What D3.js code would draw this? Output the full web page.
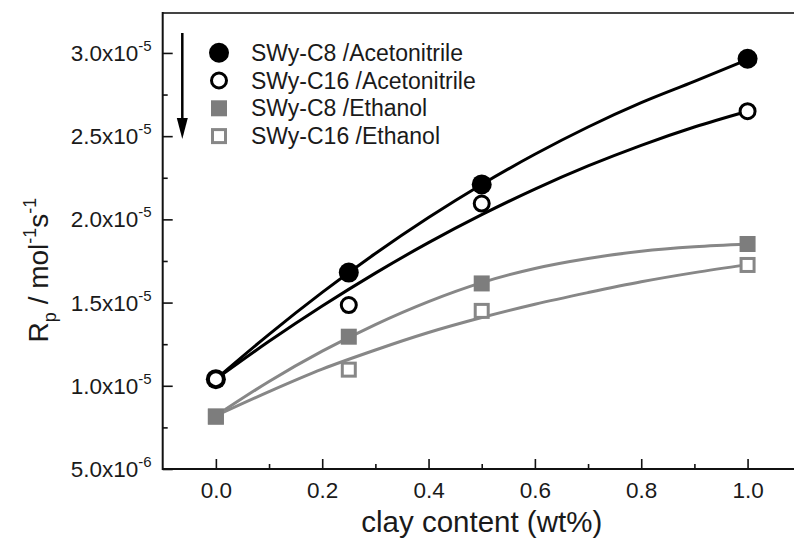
<!DOCTYPE html>
<html>
<head>
<meta charset="utf-8">
<script src="https://cdn.jsdelivr.net/npm/d3@7"></script>
<style>
  html, body { margin: 0; padding: 0; background: #fff; }
  svg { display: block; font-family: "Liberation Sans", Arial, sans-serif; }
</style>
</head>
<body>
<svg id="chart" width="794" height="545"></svg>
<script>
// ---- data ----
const clayContent = [0, 0.25, 0.5, 1.0];
const c8Acetonitrile  = [1.04e-5, 1.68e-5, 2.21e-5, 2.965e-5];
const c16Acetonitrile = [1.04e-5, 1.485e-5, 2.095e-5, 2.65e-5];
const c8Ethanol       = [8.15e-6, 1.295e-5, 1.615e-5, 1.852e-5];
const c16Ethanol      = [8.15e-6, 1.097e-5, 1.45e-5, 1.726e-5];

// fitted curves
const fitX = [0, 0.1, 0.2, 0.3, 0.4, 0.5, 0.6, 0.7, 0.8, 0.9, 1.0];
const fitC8Acetonitrile  = [1.04e-5, 1.309e-5, 1.561e-5, 1.795e-5, 2.011e-5, 2.21e-5, 2.391e-5, 2.555e-5, 2.701e-5, 2.829e-5, 2.96e-5];
const fitC16Acetonitrile = [1.04e-5, 1.267e-5, 1.479e-5, 1.677e-5, 1.86e-5, 2.028e-5, 2.182e-5, 2.321e-5, 2.445e-5, 2.555e-5, 2.65e-5];
const fitC8Ethanol       = [8.2e-6, 1.026e-5, 1.208e-5, 1.368e-5, 1.506e-5, 1.62e-5, 1.705e-5, 1.765e-5, 1.808e-5, 1.835e-5, 1.852e-5];
const fitC16Ethanol      = [8.2e-6, 9.65e-6, 1.10e-5, 1.215e-5, 1.32e-5, 1.41e-5, 1.49e-5, 1.56e-5, 1.625e-5, 1.68e-5, 1.728e-5];

const seriesNames = ["SWy-C8 /Acetonitrile", "SWy-C16 /Acetonitrile", "SWy-C8 /Ethanol", "SWy-C16 /Ethanol"];
const xTicks = [0, 0.2, 0.4, 0.6, 0.8, 1.0];
const xTickLabels = ["0.0", "0.2", "0.4", "0.6", "0.8", "1.0"];
const xMinorTicks = [0.1, 0.3, 0.5, 0.7, 0.9];
const yTicks = [5e-6, 1e-5, 1.5e-5, 2e-5, 2.5e-5, 3e-5];
const yTickMantissa = ["5.0", "1.0", "1.5", "2.0", "2.5", "3.0"];
const yTickExponent = ["-6", "-5", "-5", "-5", "-5", "-5"];
const yMinorTicks = [7.5e-6, 1.25e-5, 1.75e-5, 2.25e-5, 2.75e-5];

// ---- layout ----
const svg = d3.select("#chart");
const plotLeft = 162.7, plotBottom = 469, plotTop = 13;
const x = d3.scaleLinear().domain([-0.1, 1.1]).range([plotLeft, plotLeft + 1.2 * 531.7]);
const y = d3.scaleLinear().domain([5e-6, 3.24e-5]).range([plotBottom, plotTop]);
const plotRight = x(1.1);

const BLACK = "#000";
const GRAY = "#878787";
const GRAY_FILL = "#7d7d7d";
const TEXT = "#1a1a1a";

// frame (top/right)
svg.append("path")
  .attr("d", `M${plotLeft},${plotTop}H${plotRight}V${plotBottom}`)
  .attr("fill", "none").attr("stroke", "#444").attr("stroke-width", 2);

// x axis
const gx = svg.append("g").attr("transform", `translate(0,${plotBottom})`);
gx.call(d3.axisBottom(x).tickValues(xTicks).tickSize(-10).tickFormat((d, i) => xTickLabels[i]));
gx.append("g").call(d3.axisBottom(x).tickValues(xMinorTicks).tickSize(-5).tickFormat(""));
gx.selectAll(".domain").remove();
gx.selectAll("line").attr("stroke", "#111").attr("stroke-width", 1.6);
gx.selectAll("text").attr("font-size", 22.5).attr("fill", TEXT).attr("dy", null).attr("y", 29);
svg.append("line").attr("x1", plotLeft).attr("x2", plotRight).attr("y1", plotBottom).attr("y2", plotBottom)
  .attr("stroke", "#111").attr("stroke-width", 2);

// y axis
const gy = svg.append("g").attr("transform", `translate(${plotLeft},0)`);
gy.call(d3.axisLeft(y).tickValues(yTicks).tickSize(-10).tickFormat(""));
gy.append("g").call(d3.axisLeft(y).tickValues(yMinorTicks).tickSize(-5).tickFormat(""));
gy.selectAll(".domain").remove();
gy.selectAll("line").attr("stroke", "#111").attr("stroke-width", 1.6);
svg.append("line").attr("x1", plotLeft).attr("x2", plotLeft).attr("y1", plotTop - 1).attr("y2", plotBottom + 1)
  .attr("stroke", "#111").attr("stroke-width", 2);

const yLab = svg.append("g").selectAll("text").data(yTicks).join("text")
  .attr("x", plotLeft - 11).attr("y", d => y(d) + 8)
  .attr("text-anchor", "end").attr("font-size", 22.5).attr("fill", TEXT);
yLab.append("tspan").text((d, i) => yTickMantissa[i] + "x10");
yLab.append("tspan").attr("dy", -10).attr("font-size", 15).text((d, i) => yTickExponent[i]);

// axis titles
svg.append("text").attr("x", (x(0) + x(1)) / 2).attr("y", 532)
  .attr("text-anchor", "middle").attr("font-size", 29.5).attr("fill", TEXT)
  .text("clay content (wt%)");

const yt = svg.append("text")
  .attr("transform", `translate(48,270) rotate(-90)`)
  .attr("text-anchor", "middle").attr("font-size", 28).attr("fill", TEXT);
yt.append("tspan").text("R");
yt.append("tspan").attr("font-size", 18).attr("dy", 8).text("p");
yt.append("tspan").attr("dy", -8).text(" / mol");
yt.append("tspan").attr("font-size", 18).attr("dy", -12).text("-1");
yt.append("tspan").attr("dy", 12).text("s");
yt.append("tspan").attr("font-size", 18).attr("dy", -12).text("-1");

// fitted curves
const line = d3.line().x(d => x(d[0])).y(d => y(d[1])).curve(d3.curveMonotoneX);
const fits = [
  { v: fitC8Ethanol, c: GRAY },
  { v: fitC16Ethanol, c: GRAY },
  { v: fitC8Acetonitrile, c: BLACK },
  { v: fitC16Acetonitrile, c: BLACK }
];
svg.append("g").selectAll("path").data(fits).join("path")
  .attr("d", f => line(fitX.map((xv, i) => [xv, f.v[i]])))
  .attr("fill", "none").attr("stroke", f => f.c).attr("stroke-width", 3);

// markers
const pts = arr => clayContent.map((xv, i) => [xv, arr[i]]);
const mk = svg.append("g");
mk.selectAll(".osq").data(pts(c16Ethanol)).join("rect").attr("class", "osq")
  .attr("x", d => x(d[0]) - 6.5).attr("y", d => y(d[1]) - 6.5).attr("width", 13).attr("height", 13)
  .attr("fill", "#fff").attr("stroke", GRAY).attr("stroke-width", 3);
mk.selectAll(".fsq").data(pts(c8Ethanol)).join("rect").attr("class", "fsq")
  .attr("x", d => x(d[0]) - 8).attr("y", d => y(d[1]) - 8).attr("width", 16).attr("height", 16)
  .attr("fill", GRAY_FILL);
mk.selectAll(".fci").data(pts(c8Acetonitrile)).join("circle").attr("class", "fci")
  .attr("cx", d => x(d[0])).attr("cy", d => y(d[1])).attr("r", 10).attr("fill", BLACK);
mk.selectAll(".oci").data(pts(c16Acetonitrile)).join("circle").attr("class", "oci")
  .attr("cx", d => x(d[0])).attr("cy", d => y(d[1])).attr("r", 7.5)
  .attr("fill", "#fff").attr("stroke", BLACK).attr("stroke-width", 3);

// legend arrow
svg.append("line").attr("x1", 182.3).attr("x2", 182.3).attr("y1", 33).attr("y2", 120)
  .attr("stroke", BLACK).attr("stroke-width", 2.5);
svg.append("path").attr("d", "M176.8,118L187.8,118L182.3,139Z").attr("fill", BLACK);

// legend
const lg = svg.append("g").selectAll("g").data(seriesNames).join("g")
  .attr("transform", (d, i) => `translate(219,${52.7 + i * 27.8})`);
lg.append("text").attr("x", 32).attr("y", 8).attr("font-size", 23).attr("fill", TEXT).text(d => d);
lg.filter((d, i) => i === 0).append("circle").attr("r", 10).attr("fill", BLACK);
lg.filter((d, i) => i === 1).append("circle").attr("r", 7.5).attr("fill", "#fff").attr("stroke", BLACK).attr("stroke-width", 3);
lg.filter((d, i) => i === 2).append("rect").attr("x", -8).attr("y", -8).attr("width", 16).attr("height", 16).attr("fill", GRAY_FILL);
lg.filter((d, i) => i === 3).append("rect").attr("x", -6.5).attr("y", -6.5).attr("width", 13).attr("height", 13)
  .attr("fill", "#fff").attr("stroke", GRAY).attr("stroke-width", 3);
</script>
</body>
</html>
